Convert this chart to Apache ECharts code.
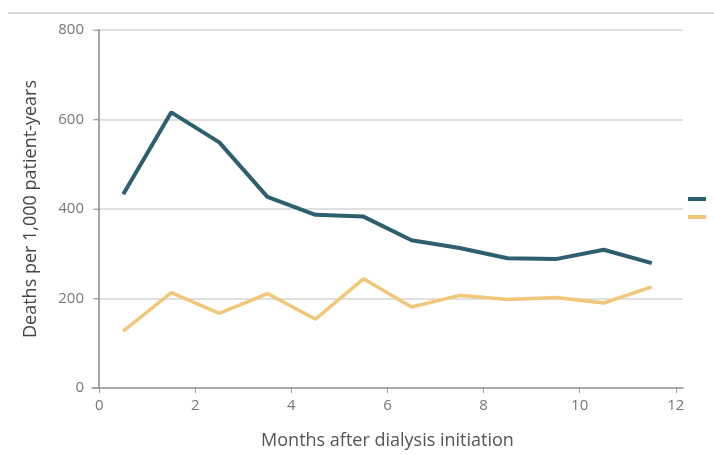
<!DOCTYPE html>
<html>
<head>
<meta charset="utf-8">
<script src="https://cdn.jsdelivr.net/npm/echarts@6/dist/echarts.min.js"></script>
<style>html,body{margin:0;padding:0;background:#fff;}#c{width:714px;height:455px;}</style>
</head>
<body>
<div id="c"></div>
<script>
const months = [0.5, 1.5, 2.5, 3.5, 4.5, 5.5, 6.5, 7.5, 8.5, 9.5, 10.5, 11.5];
const seriesHigh = [433, 616, 549, 427, 387, 383, 330, 313, 290, 288, 309, 279];
const seriesLow = [127, 213, 167, 211, 154, 244, 181, 207, 198, 202, 190, 226];
const xTicks = [0, 2, 4, 6, 8, 10, 12];
const seriesNames = ['Group A', 'Group B'];

const chart = echarts.init(document.getElementById('c'));
chart.setOption({
  animation: false,
  backgroundColor: '#fff',
  textStyle: { fontFamily: 'Open Sans' },
  graphic: [{
    type: 'line', shape: { x1: 8, y1: 13, x2: 714, y2: 13 },
    style: { stroke: '#cfcfcf', lineWidth: 1.5 }
  }],
  legend: {
    left: 683, top: 192, orient: 'vertical', itemGap: 14,
    itemWidth: 18, itemHeight: 4, icon: 'rect',
    formatter: () => '', textStyle: { fontSize: 4 },
    data: seriesNames
  },
  grid: { left: 92, right: 31, top: 30, bottom: 65 },
  xAxis: {
    type: 'value', min: -0.15, max: 12.15,
    name: 'Months after dialysis initiation', nameLocation: 'middle', nameGap: 44,
    nameTextStyle: { fontSize: 18, color: '#555' },
    axisLine: { lineStyle: { color: '#999', width: 1.5 } },
    axisTick: { show: true, customValues: xTicks, length: 5, lineStyle: { color: '#999' } },
    axisLabel: { customValues: xTicks, color: '#777', fontSize: 15, margin: 10 },
    splitLine: { show: false }
  },
  yAxis: {
    type: 'value', min: 0, max: 800, interval: 200,
    name: 'Deaths per 1,000 patient-years', nameLocation: 'middle', nameGap: 52,
    nameTextStyle: { fontSize: 18, color: '#444' },
    axisLine: { show: true, lineStyle: { color: '#888', width: 1.5 } },
    axisTick: { show: true, length: 5, lineStyle: { color: '#999' } },
    axisLabel: { color: '#777', fontSize: 15, margin: 8 },
    splitLine: { lineStyle: { color: '#d6d6d6', width: 1.5 } }
  },
  series: [
    {
      name: seriesNames[0], type: 'line', showSymbol: false,
      data: months.map((m, i) => [m, seriesHigh[i]]),
      lineStyle: { color: '#2e5f6e', width: 4 }, itemStyle: { color: '#2e5f6e' }
    },
    {
      name: seriesNames[1], type: 'line', showSymbol: false,
      data: months.map((m, i) => [m, seriesLow[i]]),
      lineStyle: { color: '#f1c77a', width: 3.5 }, itemStyle: { color: '#f1c77a' }
    }
  ]
});
</script>
</body>
</html>
